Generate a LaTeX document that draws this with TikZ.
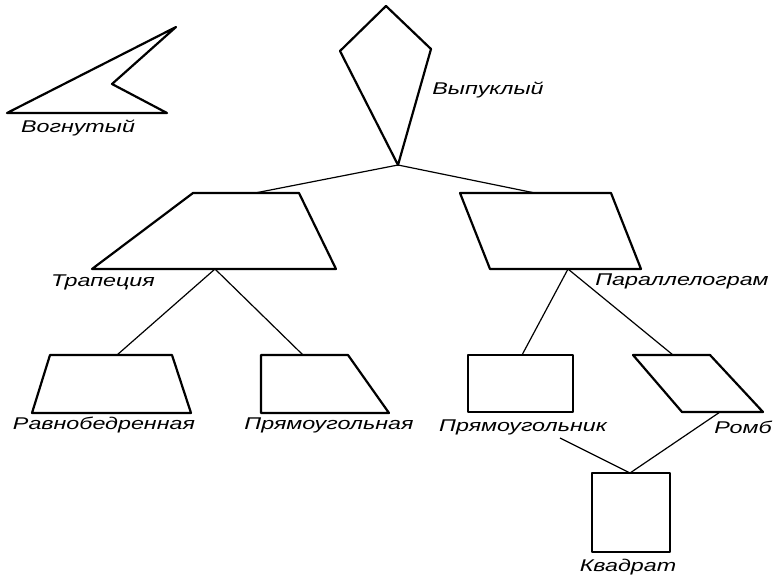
\documentclass[tikz,border=0pt]{standalone}
\usepackage{fontspec}
\newfontfamily\labfont[FakeStretch=1.37]{Liberation Sans Italic}
\begin{document}
\begin{tikzpicture}[x=1pt,y=-1pt,
  fig/.style={line width=2.2pt,line join=round},
  link/.style={line width=1.2pt},
  lab/.style={font=\labfont\fontsize{17}{18}\selectfont,inner sep=0pt,anchor=center}]
\useasboundingbox (0,0) rectangle (781,576);
% concave
\draw[fig] (7,113) -- (176,27) -- (112,84) -- (167,113) -- cycle;
\node[lab] (vogn) at (78,128) {Вогнутый};
% kite
\draw[fig] (386,6) -- (431,49) -- (398,165) -- (340,51) -- cycle;
\coordinate (kiteB) at (398,165);
\node[lab] (vyp) at (488,90) {Выпуклый};
% trapezoid
\draw[fig] (193,193) -- (299,193) -- (336,269) -- (92,269) -- cycle;
\coordinate (trapT) at (255,193);
\coordinate (trapB) at (215,269);
\node[lab] (trap) at (103,282) {Трапеция};
% parallelogram
\draw[fig] (460,193) -- (611,193) -- (641,269) -- (490,269) -- cycle;
\coordinate (parT) at (535,193);
\coordinate (parB) at (568,269);
\node[lab] (par) at (682,281) {Параллелограм};
% isosceles trapezoid
\draw[fig] (50,355) -- (172,355) -- (191,413) -- (32,413) -- cycle;
\coordinate (isoT) at (117,355);
\node[lab] (iso) at (104,425) {Равнобедренная};
% right trapezoid
\draw[fig] (261,355) -- (348,355) -- (389,413) -- (261,413) -- cycle;
\coordinate (rtT) at (303,355);
\node[lab] (rt) at (329,425) {Прямоугольная};
% rectangle
\draw[fig] (468,355) rectangle (573,412);
\coordinate (recT) at (522,355);
\coordinate (recB) at (560,438);
\node[lab] (rec) at (523,427) {Прямоугольник};
% rhombus
\draw[fig] (633,355) -- (710,355) -- (763,412) -- (682,412) -- cycle;
\coordinate (rhT) at (673,355);
\coordinate (rhB) at (720,412);
\node[lab] (rh) at (743,427) {Ромб};
% square
\draw[fig] (592,473) rectangle (670,552);
\coordinate (sqT) at (630,473);
\node[lab] (sq) at (628,567) {Квадрат};
% connectors
\draw[link] (kiteB) -- (trapT);
\draw[link] (kiteB) -- (parT);
\draw[link] (trapB) -- (isoT);
\draw[link] (trapB) -- (rtT);
\draw[link] (parB) -- (recT);
\draw[link] (parB) -- (rhT);
\draw[link] (recB) -- (sqT);
\draw[link] (rhB) -- (sqT);
\end{tikzpicture}
\end{document}
